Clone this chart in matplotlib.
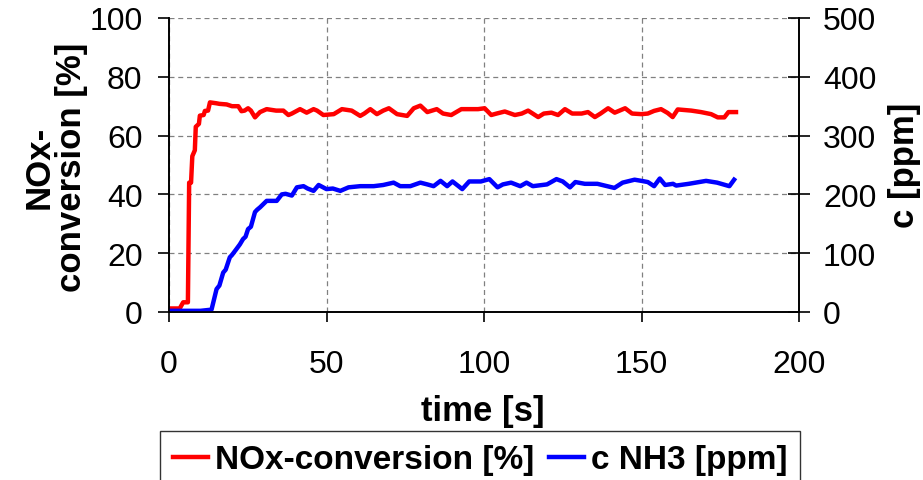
import matplotlib
matplotlib.use("Agg")
import matplotlib.pyplot as plt

plt.rcParams["font.family"] = ["Liberation Sans", "DejaVu Sans"]

# NOx conversion [%] vs time [s]
nox_t = [0, 3.4, 4.5, 6.0, 6.4, 7.0, 7.4, 8.2, 8.5, 9.5, 9.8, 11, 11.4, 12.4, 13,
         15, 16, 18.3, 20, 22, 23, 24, 25.1, 26, 27.3, 28, 28.9, 31, 34, 36.3,
         37.9, 39, 41.6, 43.7, 45.9, 47, 49, 52.3, 54.9, 58, 60.7, 62, 63.9, 66,
         68, 69.8, 72.4, 75.6, 77.7, 79.8, 82, 85, 87, 89.6, 92.8, 98.1, 100.2,
         102.3, 104, 106.6, 109.8, 112, 114, 117.2, 119, 121.4, 123.5, 125.7,
         128, 131, 133, 135.2, 137, 139.4, 141.5, 144.8, 147, 150, 152, 154,
         156.2, 158.3, 159.9, 161.5, 165.8, 168.9, 172.1, 174.2, 176.3, 177.6, 180]
nox_v = [1.2, 1.2, 3.3, 3.3, 44, 44, 53, 55, 63, 64, 66.8, 67, 68.4, 68.5, 71.3,
         71, 70.8, 70.6, 70, 70, 68.3, 68.5, 69.3, 68.5, 66.2, 67, 68, 69, 68.5, 68.5,
         67, 67.5, 69, 67.8, 69, 68.5, 67, 67.3, 69, 68.5, 66.7, 67.5, 69, 67.3,
         68.5, 69.3, 67.3, 66.7, 69.3, 70.2, 68, 69, 67.5, 67, 69, 69, 69.3,
         67, 67.5, 68.2, 67, 67.5, 68.5, 66.3, 67.5, 67.8, 67, 69,
         67.5, 67.5, 68, 66.3, 67.5, 69.3, 67.8, 69.3, 67.5, 67.3, 67.5, 68.4,
         69, 67.7, 66.3, 68.9, 68.5, 68, 67.3, 66.2, 66.2, 68, 68]

# NH3 concentration [ppm] vs time [s]
nh3_t = [0, 10, 13.5, 15.1, 16, 17.2, 18, 19.3, 20, 21.4, 22.5, 23.5, 24.3, 25.1,
         26, 27.3, 28, 28.9, 31, 34.2, 35.8, 37, 39, 40.6, 42.7, 44, 45.9, 47.5,
         50, 52, 54.4, 57, 60.7, 65, 68, 71.3, 73.4, 76.6, 79.8, 82, 84, 86.2,
         88.3, 90, 93.1, 95.3, 99, 101.7, 104.3, 106, 108.6, 111.5, 113.5, 115.5,
         120, 123, 125, 127.3, 129, 132, 136, 141.4, 144, 147.8, 150, 152, 154,
         155.8, 157.5, 160, 161, 165, 170.5, 174, 177.9, 179.4]
nh3_v = [2, 2, 4, 39, 45, 67, 72, 93, 97, 107, 115, 124, 128, 141,
         145, 170, 174, 178, 189, 189, 200, 201, 198, 212, 214, 210, 206, 216,
         209, 210, 206, 212, 214, 214, 216, 220, 214, 214, 220, 217, 214, 223,
         214, 222, 209, 222, 222, 226, 212, 217, 220, 214, 220, 214,
         217, 226, 222, 212, 221, 218, 218, 211, 220, 225, 223, 221, 214,
         227, 216, 218, 215, 218, 223, 220, 214, 225]

fig = plt.figure(figsize=(9.23, 4.81), dpi=100)
ax = fig.add_axes([169 / 923, 1 - 313 / 481, 630 / 923, 294 / 481])
ax2 = ax.twinx()

l1, = ax.plot(nox_t, nox_v, color="#ff0000", lw=3.2,
              label="NOx-conversion [%]")
l2, = ax2.plot(nh3_t, nh3_v, color="#0000ff", lw=3.2,
               label="c NH3 [ppm]")

ax.set_xlim(0, 200)
ax.set_ylim(0, 100)
ax2.set_ylim(0, 500)
ax.set_xticks([0, 50, 100, 150, 200])
ax.set_yticks([0, 20, 40, 60, 80, 100])
ax2.set_yticks([0, 100, 200, 300, 400, 500])

ax.grid(True, color="#808080", linestyle=(0, (4, 3)), linewidth=0.9)
ax.set_axisbelow(True)
for a in (ax, ax2):
    a.spines["top"].set_visible(False)
    for s in a.spines.values():
        s.set_linewidth(1.2)
ax.tick_params(axis="x", direction="out", length=7.5, width=1.2,
               labelsize=23, pad=19)
ax.tick_params(axis="y", direction="out", length=8, width=1.2,
               labelsize=23, pad=11)
ax2.tick_params(axis="y", direction="inout", length=16.5, width=1.2,
                labelsize=23, pad=9)

fig.text(0.060, 0.653, "NOx-\nconversion [%]", rotation=90, ha="center",
         va="center", fontsize=25, fontweight="bold", multialignment="center",
         linespacing=1.0)
fig.text(0.980, 0.657, "c [ppm]", rotation=90, ha="center", va="center",
         fontsize=25, fontweight="bold")
fig.text(0.523, 1 - 412 / 481, "time [s]", ha="center", va="center",
         fontsize=25, fontweight="bold")

leg = fig.legend(handles=[l1, l2], loc="upper center",
                 bbox_to_anchor=(0.520, 1 - 432 / 481), ncol=2,
                 prop={"weight": "bold", "size": 24}, frameon=True,
                 fancybox=False, edgecolor="black", handlelength=1.05,
                 handletextpad=0.2, columnspacing=0.45, borderpad=0.4,
                 borderaxespad=0)
leg.get_frame().set_linewidth(1.0)

fig.savefig("out.png", dpi=100)
